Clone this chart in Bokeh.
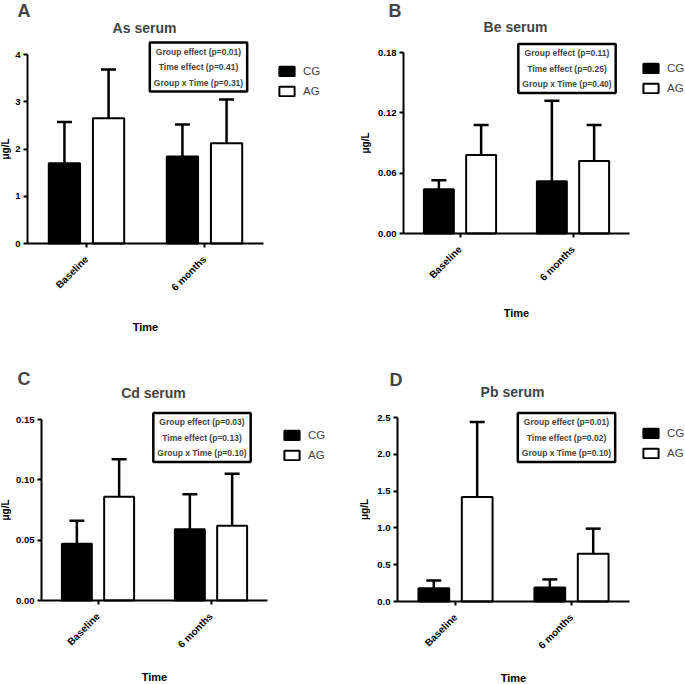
import math
from bokeh.plotting import figure
from bokeh.models import (ColumnDataSource, Range1d, FixedTicker, Whisker, TeeHead,
                          Legend, LegendItem, Label, PrintfTickFormatter)
from bokeh.transform import dodge
from bokeh.layouts import row, column
from bokeh.embed import file_html
from bokeh.resources import INLINE

# ---------------- data ----------------
times = ["Baseline", "6 months"]
groups = ["CG", "AG"]

as_cg_mean = [1.70, 1.84]
as_cg_sd = [0.87, 0.68]
as_ag_mean = [2.65, 2.12]
as_ag_sd = [1.03, 0.93]
as_ticks = [0, 1, 2, 3, 4]
as_stats = ["Group effect (p=0.01)", "Time effect (p=0.41)", "Group x Time (p=0.31)"]

be_cg_mean = [0.044, 0.052]
be_cg_sd = [0.009, 0.080]
be_ag_mean = [0.078, 0.072]
be_ag_sd = [0.030, 0.036]
be_ticks = [0.00, 0.06, 0.12, 0.18]
be_stats = ["Group effect (p=0.11)", "Time effect (p=0.25)", "Group x Time (p=0.40)"]

cd_cg_mean = [0.047, 0.059]
cd_cg_sd = [0.019, 0.029]
cd_ag_mean = [0.086, 0.062]
cd_ag_sd = [0.031, 0.043]
cd_ticks = [0.00, 0.05, 0.10, 0.15]
cd_stats = ["Group effect (p=0.03)", "Time effect (p=0.13)", "Group x Time (p=0.10)"]

pb_cg_mean = [0.18, 0.19]
pb_cg_sd = [0.105, 0.11]
pb_ag_mean = [1.42, 0.65]
pb_ag_sd = [1.02, 0.34]
pb_ticks = [0.0, 0.5, 1.0, 1.5, 2.0, 2.5]
pb_stats = ["Group effect (p=0.01)", "Time effect (p=0.02)", "Group x Time (p=0.10)"]

FONT = "Liberation Sans"


def make_panel(letter, title, cg_mean, cg_sd, ag_mean, ag_sd, ticks, fmt, stats, g):
    w, h = g["size"]
    L, T, R, B = g["axes"]          # where the axes sit inside the figure (pixels)
    n = len(times)
    ymax = ticks[-1]
    kx = (R - L) / n
    ky = (B - T) / ymax
    p = figure(width=w, height=h,
               x_range=Range1d(-L / kx, (w - L) / kx),
               y_range=Range1d(-(h - B) / ky, ymax + T / ky),
               output_backend="svg", toolbar_location=None, min_border=0)
    p.outline_line_color = None
    p.xgrid.visible = False
    p.ygrid.visible = False

    def sy(y):  # figure pixel (from top) -> screen units from bottom
        return h - y

    xpos = [i + 0.5 for i in range(n)]
    src = ColumnDataSource(dict(
        x=xpos, cg=cg_mean, ag=ag_mean,
        cg_up=[m + s for m, s in zip(cg_mean, cg_sd)],
        ag_up=[m + s for m, s in zip(ag_mean, ag_sd)],
    ))
    off = 0.187
    bw = 0.265
    for key, sign in (("cg", -1), ("ag", 1)):
        wh = Whisker(source=src, base=dodge("x", sign * off),
                     lower=key, upper=key + "_up", dimension="height",
                     line_width=2.5, line_color="black",
                     upper_head=TeeHead(size=15, line_width=2.5, line_color="black"),
                     lower_head=None, level="underlay")
        p.add_layout(wh)
    cg_r = p.vbar(x=dodge("x", -off), top="cg", width=bw, source=src,
                  fill_color="black", line_color="black", line_width=2)
    ag_r = p.vbar(x=dodge("x", off), top="ag", width=bw, source=src,
                  fill_color="white", line_color="black", line_width=2)

    # axes
    for ax in (p.xaxis[0], p.yaxis[0]):
        ax.axis_line_width = 2
        ax.major_tick_line_width = 2
        ax.major_tick_out = 4
        ax.major_tick_in = 0
        ax.minor_tick_line_color = None
        ax.major_label_text_font = FONT
        ax.major_label_text_font_style = "bold"
        ax.axis_label_text_font = FONT
        ax.axis_label_text_font_style = "bold"
        ax.major_label_text_color = "black"
        ax.axis_label_text_color = "black"
    p.yaxis.fixed_location = 0
    p.yaxis.bounds = (0, ymax)
    p.yaxis.ticker = FixedTicker(ticks=ticks)
    p.yaxis.formatter = PrintfTickFormatter(format=fmt)
    p.yaxis.axis_label = "μg/L"
    p.yaxis.major_label_text_font_size = "9.5px"
    p.yaxis.axis_label_text_font_size = "10px"
    p.yaxis.major_label_standoff = 3
    p.yaxis.axis_label_standoff = g["ylabel_standoff"]

    p.xaxis.fixed_location = 0
    p.xaxis.bounds = (0, n)
    p.xaxis.ticker = FixedTicker(ticks=xpos)
    p.xaxis.major_label_overrides = {x: t for x, t in zip(xpos, times)}
    p.xaxis.axis_label = "Time"
    p.xaxis.major_label_text_font_size = "10px"
    p.xaxis.axis_label_text_font_size = "11px"
    p.xaxis.major_label_orientation = math.pi / 4
    p.xaxis.major_label_standoff = 10
    p.xaxis.axis_label_standoff = g["xlabel_standoff"]

    # title
    tx, ty = g["title"]
    p.add_layout(Label(x=tx, y=sy(ty), x_units="screen", y_units="screen",
                       text=title, text_align="center", text_baseline="middle",
                       text_font=FONT, text_font_size="14px", text_font_style="bold"))

    # legend
    lx, ly = g["legend"]
    leg = Legend(items=[LegendItem(label=groups[0], renderers=[cg_r]),
                        LegendItem(label=groups[1], renderers=[ag_r])],
                 location=(lx, sy(ly + 35)),
                 glyph_width=19, glyph_height=12, label_height=12, label_standoff=7,
                 spacing=8, padding=0, margin=0,
                 border_line_color=None, background_fill_alpha=0,
                 label_text_font=FONT, label_text_font_size="11.5px")
    p.add_layout(leg)

    # statistics box
    bx, by = g["box"]
    p.add_layout(Label(x=bx, y=sy(by), x_units="screen", y_units="screen",
                       text="\n".join(stats), text_align="center", text_baseline="middle",
                       text_font=FONT, text_font_size="8.5px", text_font_style="bold",
                       text_line_height=1.55,
                       border_line_color="black", border_line_width=2.5,
                       background_fill_color="white", padding=4))

    # panel letter
    lx2, ly2 = g["letter"]
    p.add_layout(Label(x=lx2, y=sy(ly2), x_units="screen", y_units="screen",
                       text=letter, text_align="left", text_baseline="top",
                       text_font=FONT, text_font_size="18px", text_font_style="bold"))
    return p


geo_a = dict(size=(340, 340), axes=(27, 54, 263, 243), ylabel_standoff=1, xlabel_standoff=21,
             title=(144, 27), legend=(277, 62), box=(198, 66.5), letter=(17, 0))
geo_b = dict(size=(345, 340), axes=(63, 52, 289, 233), ylabel_standoff=4, xlabel_standoff=17,
             title=(175, 26), legend=(301, 59), box=(226.5, 68), letter=(48, 0))
geo_c = dict(size=(340, 344), axes=(41, 79, 267, 260), ylabel_standoff=2, xlabel_standoff=14,
             title=(153, 52), legend=(282, 86), box=(201.5, 97), letter=(17, 28))
geo_d = dict(size=(345, 344), axes=(57, 77, 289, 261), ylabel_standoff=4, xlabel_standoff=14,
             title=(172, 51), legend=(301, 84), box=(226, 97), letter=(49, 29))

pa = make_panel("A", "As serum", as_cg_mean, as_cg_sd, as_ag_mean, as_ag_sd, as_ticks, "%d", as_stats, geo_a)
pb = make_panel("B", "Be serum", be_cg_mean, be_cg_sd, be_ag_mean, be_ag_sd, be_ticks, "%.2f", be_stats, geo_b)
pc = make_panel("C", "Cd serum", cd_cg_mean, cd_cg_sd, cd_ag_mean, cd_ag_sd, cd_ticks, "%.2f", cd_stats, geo_c)
pd_ = make_panel("D", "Pb serum", pb_cg_mean, pb_cg_sd, pb_ag_mean, pb_ag_sd, pb_ticks, "%.1f", pb_stats, geo_d)

layout = column(row(pa, pb), row(pc, pd_))
open("out.html", "w").write(file_html(layout, INLINE))
